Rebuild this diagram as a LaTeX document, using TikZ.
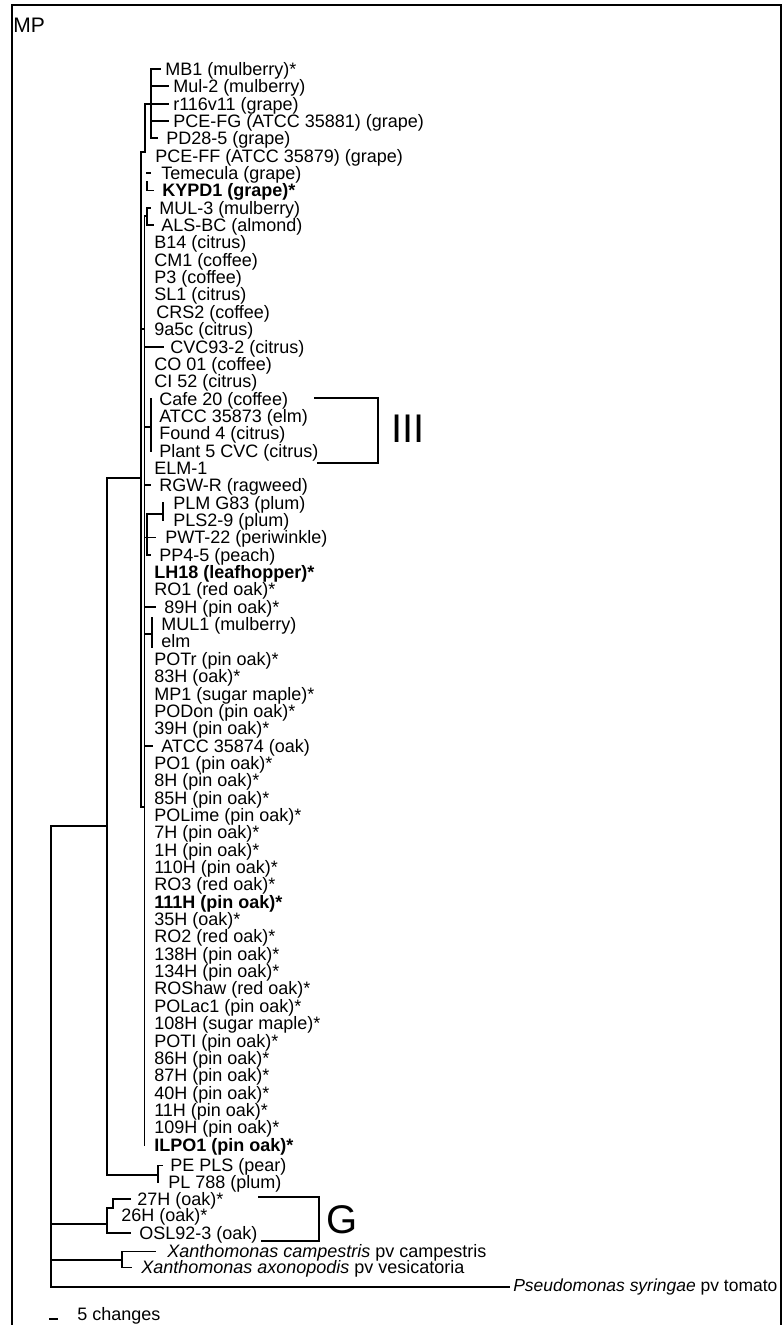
\documentclass[tikz,border=0pt]{standalone}
\usepackage{fontspec}
\setmainfont{Liberation Sans}
\usetikzlibrary{calc}
\begin{document}
\begin{tikzpicture}[x=0.75pt,y=-0.75pt,
  lab/.style={anchor=west,inner sep=0pt,text height=9.65pt,text depth=0pt,font=\fontsize{13.5}{15}\selectfont},
  big/.style={anchor=west,inner sep=0pt,text height=21.5pt,text depth=0pt,font=\fontsize{30}{32}\selectfont},
  br/.style={line width=1.4pt,line cap=rect},
  frame/.style={line width=1.5pt}]
\useasboundingbox (0,0) rectangle (782,1325);
\clip (0,0) rectangle (782,1325);
\draw[frame] (12,1340) -- (12,5) -- (781,5) -- (781,1340);
\node[anchor=west,inner sep=0pt,text height=11.3pt,text depth=0pt,font=\fontsize{15.75}{17}\selectfont] (mp) at (13,24.5) {MP};
\foreach \i/\x/\t in {
 1/165/{MB1 (mulberry)*},
 2/173/{Mul-2 (mulberry)},
 3/173/{r116v11 (grape)},
 4/173/{PCE-FG (ATCC 35881) (grape)},
 5/166/{PD28-5 (grape)},
 6/155/{PCE-FF (ATCC 35879) (grape)},
 7/161/{Temecula (grape)},
 8/162/{\textbf{KYPD1 (grape)*}},
 9/159/{MUL-3 (mulberry)},
 10/161/{ALS-BC (almond)},
 11/154/{B14 (citrus)},
 12/154/{CM1 (coffee)},
 13/154/{P3 (coffee)},
 14/154/{SL1 (citrus)},
 15/156/{CRS2 (coffee)},
 16/154/{9a5c (citrus)},
 17/170/{CVC93-2 (citrus)},
 18/154/{CO 01 (coffee)},
 19/154/{CI 52 (citrus)},
 20/159/{Cafe 20 (coffee)},
 21/159/{ATCC 35873 (elm)},
 22/159/{Found 4 (citrus)},
 23/159/{Plant 5 CVC (citrus)},
 24/154/{ELM-1},
 25/159/{RGW-R (ragweed)},
 26/173/{PLM G83 (plum)},
 27/173/{PLS2-9 (plum)},
 28/165/{PWT-22 (periwinkle)},
 29/159/{PP4-5 (peach)},
 30/154/{\textbf{LH18 (leafhopper)*}},
 31/154/{RO1 (red oak)*},
 32/164/{89H (pin oak)*},
 33/161/{MUL1 (mulberry)},
 34/161/{elm},
 35/154/{POTr (pin oak)*},
 36/154/{83H (oak)*},
 37/154/{MP1 (sugar maple)*},
 38/154/{PODon (pin oak)*},
 39/154/{39H (pin oak)*},
 40/161/{ATCC 35874 (oak)},
 41/154/{PO1 (pin oak)*},
 42/154/{8H (pin oak)*},
 43/154/{85H (pin oak)*},
 44/154/{POLime (pin oak)*},
 45/154/{7H (pin oak)*},
 46/154/{1H (pin oak)*},
 47/154/{110H (pin oak)*},
 48/154/{RO3 (red oak)*},
 49/154/{\textbf{111H (pin oak)*}},
 50/154/{35H (oak)*},
 51/154/{RO2 (red oak)*},
 52/154/{138H (pin oak)*},
 53/154/{134H (pin oak)*},
 54/154/{ROShaw (red oak)*},
 55/154/{POLac1 (pin oak)*},
 56/154/{108H (sugar maple)*},
 57/154/{POTI (pin oak)*},
 58/154/{86H (pin oak)*},
 59/154/{87H (pin oak)*},
 60/154/{40H (pin oak)*},
 61/154/{11H (pin oak)*},
 62/154/{109H (pin oak)*},
 63/154/{\textbf{ILPO1 (pin oak)*}}}
 \node[lab] (t\i) at (\x,{69+(\i-1)*17.35}) {\t};
\node[lab] (t64) at (170,1165.5) {PE PLS (pear)};
\node[lab] (t65) at (168,1182) {PL 788 (plum)};
\node[lab] (t66) at (137,1199) {27H (oak)*};
\node[lab] (t67) at (121,1215) {26H (oak)*};
\node[lab] (t68) at (139,1233) {OSL92-3 (oak)};
\node[lab] (t69) at (167,1251.5) {\textit{Xanthomonas campestris} pv campestris};
\node[lab] (t70) at (141,1267.5) {\textit{Xanthomonas axonopodis} pv vesicatoria};
\node[lab,font=\fontsize{13.1}{15}\selectfont] (t71) at (513,1285) {\textit{Pseudomonas syringae} pv tomato};
\node[lab] (sc) at (77,1314) {5 changes};
\node[big] (gIII) at (391,428) {III};
\node[big] (gG) at (326,1219) {G};
% top subclade
\draw[br] (151,0 |- t1) -- (151,0 |- t5) -- (157,0 |- t5);
\draw[br] (151,0 |- t1) -- (160,0 |- t1);
\draw[br] (151,0 |- t2) -- (168,0 |- t2);
\draw[br] (151,0 |- t4) -- (168,0 |- t4);
\draw[br] (168,0 |- t3) -- (145,0 |- t3) -- (145,152) -- (141,152);
\draw[br] (147,0 |- t7) -- (150,0 |- t7);
\draw[br] ($(147,0 |- t8)+(0,-9)$) -- (147,0 |- t8) -- (153,0 |- t8);
\draw[br] (150,0 |- t9) -- (147,0 |- t9) -- (147,0 |- t10) -- (153,0 |- t10);
\draw[br] ($(144.5,0 |- t9)+(0,8)$) -- ($(147,0 |- t9)+(0,8)$);
% main verticals
\draw[br] ($(144.5,0 |- t9)+(0,8)$) -- (144.5,0 |- t63);
\draw[br] (141,152) -- (141,807) -- (144.5,807);
\draw[br] (141,0 |- t16) -- (144.5,0 |- t16);
\draw[br] (144.5,0 |- t17) -- (163,0 |- t17);
\draw[br] (144.5,427) -- (150.7,427);
\draw[br] (150.7,0 |- t20) -- (150.7,0 |- t23);
\draw[br] (144.5,0 |- t25) -- (150,0 |- t25);
\draw[br] (163,0 |- t26) -- (163,0 |- t27);
\draw[br] (147,514) -- (163,514);
\draw[br] (147,514) -- (147,0 |- t29) -- (150,0 |- t29);
\draw[br] (144.5,0 |- t28) -- (155,0 |- t28);
\draw[br] (144.5,0 |- t32) -- (155,0 |- t32);
\draw[br] (144.5,634) -- (151.7,634);
\draw[br] (151.7,618) -- (151.7,647);
\draw[br] (144.5,0 |- t40) -- (152,0 |- t40);
% III bracket
\draw[br] (315,398) -- (378,398) -- (378,463) -- (318,463);
% lower tree
\draw[br] (107,478) -- (141,478);
\draw[br] (107,478) -- (107,1175) -- (158,1175);
\draw[br] (162,0 |- t64) -- (158,0 |- t64) -- (158,0 |- t65);
\draw[br] (51,826) -- (107,826);
\draw[br] (51,826) -- (51,1287);
% G clade
\draw[br] (51,1224) -- (107,1224);
\draw[br] (107,1208) -- (107,0 |- t68) -- (130,0 |- t68);
\draw[br] (107,1208) -- (113,1208) -- (113,0 |- t66) -- (130,0 |- t66);
\draw[br] (259,1197) -- (319,1197) -- (319,1241) -- (262,1241);
% Xanthomonas
\draw[br] (51,1260) -- (122,1260);
\draw[br] (155,0 |- t69) -- (122,0 |- t69) -- (122,0 |- t70) -- (131,0 |- t70);
% Pseudomonas
\draw[br] (51,1287) -- (509,1287);
% scale
\draw[br] (50,1319) -- (57,1319);
\end{tikzpicture}
\end{document}
